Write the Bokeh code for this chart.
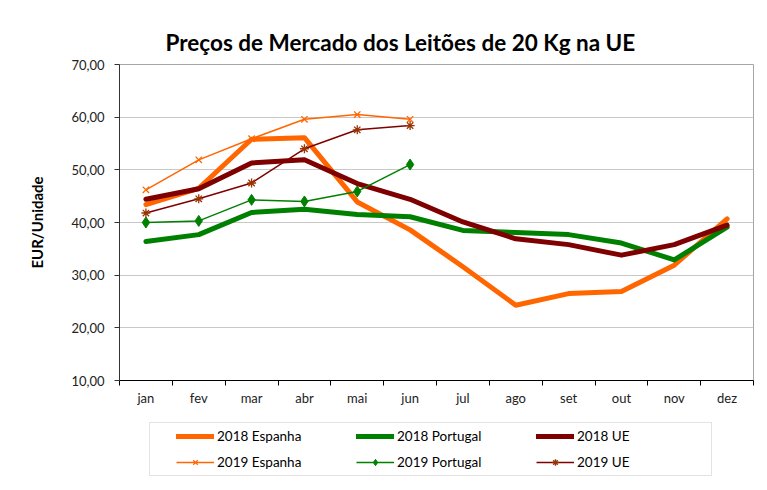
from bokeh.plotting import figure
from bokeh.layouts import column
from bokeh.models import (Range1d, FixedTicker, Legend, LegendItem)
from bokeh.embed import file_html
from bokeh.resources import INLINE

months = ["jan", "fev", "mar", "abr", "mai", "jun", "jul", "ago", "set", "out", "nov", "dez"]
esp_2018 = [43.4, 46.5, 55.8, 56.1, 43.9, 38.6, 31.6, 24.3, 26.5, 26.9, 31.9, 40.7]
por_2018 = [36.4, 37.7, 41.9, 42.5, 41.5, 41.1, 38.5, 38.1, 37.7, 36.1, 32.9, 39.1]
ue_2018 = [44.4, 46.4, 51.3, 51.9, 47.4, 44.4, 40.1, 36.9, 35.8, 33.8, 35.8, 39.5]
esp_2019 = [46.2, 51.9, 55.9, 59.6, 60.5, 59.6]
por_2019 = [40.0, 40.3, 44.3, 44.0, 45.9, 51.0]
ue_2019 = [41.8, 44.5, 47.5, 54.0, 57.6, 58.4]
y_ticks = [10, 20, 30, 40, 50, 60, 70]
y_tick_labels = ["10,00", "20,00", "30,00", "40,00", "50,00", "60,00", "70,00"]
series_labels = ["2018 Espanha", "2018 Portugal", "2018 UE", "2019 Espanha", "2019 Portugal", "2019 UE"]

ORANGE = "#FF6600"
GREEN = "#008000"
MAROON = "#7F0000"
BROWN = "#993300"
FONT = "Lato"

x_all = [i + 0.5 for i in range(len(months))]
x19 = x_all[:len(esp_2019)]

p = figure(frame_width=634, frame_height=316, output_backend="svg", toolbar_location=None,
           x_range=Range1d(0, 12), y_range=Range1d(10, 70),
           min_border_left=119, min_border_right=14, min_border_top=64, min_border_bottom=30,
           background_fill_color="white", border_fill_color="white")

p.title.text = "Preços de Mercado dos Leitões de 20 Kg na UE"
p.title.text_font = FONT
p.title.text_font_size = "22.5px"
p.title.text_font_style = "bold"
p.title.text_color = "#000000"
p.title.align = "left"
p.title.offset = 46
p.title.standoff = 17

p.outline_line_color = "#A6A6A6"
p.outline_line_width = 1

# axes
xa = p.xaxis[0]
xa.ticker = FixedTicker(ticks=x_all, minor_ticks=list(range(13)))
xa.major_label_overrides = {x: m for x, m in zip(x_all, months)}
xa.major_tick_line_color = None
xa.major_tick_out = 0
xa.major_tick_in = 0
xa.minor_tick_out = 5
xa.minor_tick_in = 0
xa.minor_tick_line_color = "#000000"
xa.axis_line_color = "#000000"
xa.major_label_standoff = 4
xa.major_label_text_font = FONT
xa.major_label_text_font_size = "13px"
xa.major_label_text_color = "#222222"

ya = p.yaxis[0]
ya.ticker = FixedTicker(ticks=y_ticks, minor_ticks=[])
ya.major_label_overrides = {t: l for t, l in zip(y_ticks, y_tick_labels)}
ya.major_tick_out = 5
ya.major_tick_in = 0
ya.major_tick_line_color = "#333333"
ya.axis_line_color = "#333333"
ya.major_label_standoff = 10
ya.major_label_text_font = FONT
ya.major_label_text_font_size = "13px"
ya.major_label_text_color = "#222222"
ya.axis_label = "EUR/Unidade"
ya.axis_label_text_font = FONT
ya.axis_label_text_font_size = "15px"
ya.axis_label_text_font_style = "bold"
ya.axis_label_text_color = "#000000"
ya.axis_label_standoff = 22

p.xgrid.grid_line_color = None
p.ygrid.grid_line_color = "#C8C8C8"
p.ygrid.grid_line_width = 1


def draw_series(fig):
    r = []
    r.append([fig.line(x_all, esp_2018, line_color=ORANGE, line_width=5, line_join="round", line_cap="round")])
    r.append([fig.line(x_all, por_2018, line_color=GREEN, line_width=5, line_join="round", line_cap="round")])
    r.append([fig.line(x_all, ue_2018, line_color=MAROON, line_width=5, line_join="round", line_cap="round")])
    r.append([fig.line(x19, esp_2019, line_color=ORANGE, line_width=1.5),
              fig.scatter(x19, esp_2019, marker="x", size=9, line_color=ORANGE, line_width=1.3)])
    r.append([fig.line(x19, por_2019, line_color=GREEN, line_width=1.5),
              fig.scatter(x19, por_2019, marker="diamond", size=11, line_color=GREEN, fill_color=GREEN)])
    r.append([fig.line(x19, ue_2019, line_color=MAROON, line_width=1.5),
              fig.scatter(x19, ue_2019, marker="asterisk", size=9, line_color=BROWN, line_width=1.3)])
    return r


draw_series(p)

# legend strip: same series drawn outside its (empty) visible range, used only for the keys
lf = figure(width=767, height=80, output_backend="svg", toolbar_location=None,
            x_range=Range1d(100, 101), y_range=Range1d(100, 101), x_axis_type=None, y_axis_type=None,
            min_border=0, outline_line_color=None,
            background_fill_color="white", border_fill_color="white")
key_renderers = draw_series(lf)

legend = Legend(items=[LegendItem(label=l, renderers=r) for l, r in zip(series_labels, key_renderers)],
                orientation="horizontal", ncols=3, location=(30, 14))
legend.title = " "
legend.title_location = "left"
legend.title_text_font_size = "10px"
legend.title_standoff = 10
legend.padding = 5
legend.margin = 0
legend.spacing = 10
legend.glyph_width = 38
legend.glyph_height = 16
legend.label_height = 16
legend.label_width = 129
legend.label_standoff = 3
legend.label_text_font = FONT
legend.label_text_font_size = "13.5px"
legend.label_text_color = "#000000"
legend.border_line_color = "#C8C8C8"
legend.border_line_width = 1
legend.background_fill_color = "white"
lf.add_layout(legend, "center")

layout = column(p, lf, spacing=0)
open("out.html", "w").write(file_html(layout, INLINE))
